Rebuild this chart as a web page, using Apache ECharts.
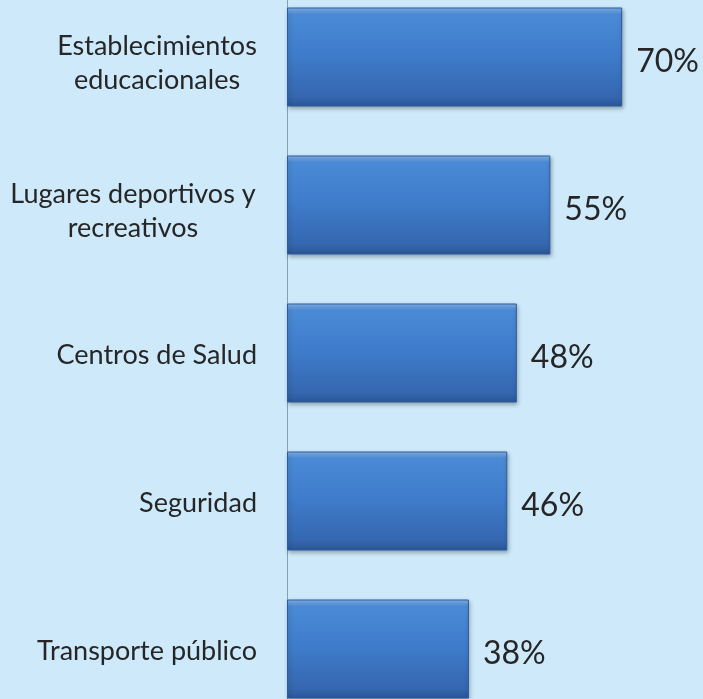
<!DOCTYPE html>
<html><head><meta charset="utf-8">
<script src="https://cdn.jsdelivr.net/npm/echarts@6/dist/echarts.min.js"></script>
<style>html,body{margin:0;padding:0;background:#cde9fa;overflow:hidden;width:703px;height:699px;position:relative;}#c{position:absolute;left:0;top:-17px;width:703px;height:740px;}</style>
</head><body><div id="c"></div>
<script>
const categories = ["Establecimientos\neducacionales","Lugares deportivos y\nrecreativos","Centros de Salud","Seguridad","Transporte público"];
const values = [70,55,48,46,38];

const catData = categories.map(function(c){
  return {value:c, textStyle:{padding: c.indexOf('\n')>=0 ? [12,0,0,0] : [4,0,0,0]}};
});

const chart = echarts.init(document.getElementById('c'));
chart.setOption({
  backgroundColor:'#cde9fa',
  animation:false,
  grid:{left:287,right:9,top:0,bottom:0,containLabel:false},
  xAxis:{type:'value',min:0,max:85,show:false},
  yAxis:{type:'category',data:catData,inverse:true,
    axisLine:{show:true,lineStyle:{color:'#8a9fb0',width:1}},
    axisTick:{show:false},
    axisLabel:{margin:30,color:'#262626',fontSize:27,fontFamily:'Lato',lineHeight:34,align:'right',
      formatter:function(v,i){
        if(v.indexOf('\n')<0) return v;
        const s = i===0 ? 'w1' : 'w2';
        return v.split('\n').map(function(l){return '{'+s+'|'+l+'}';}).join('\n');
      },
      rich:{
        w1:{width:200,align:'center',fontSize:27,fontFamily:'Lato',color:'#262626',lineHeight:34},
        w2:{width:248,align:'center',fontSize:27,fontFamily:'Lato',color:'#262626',lineHeight:34}
      }}},
  series:[{type:'bar',data:values,barWidth:99,
    itemStyle:{
      color:new echarts.graphic.LinearGradient(0,0,0,1,[
        {offset:0,color:'#86b7ec'},
        {offset:0.07,color:'#4b8ad6'},
        {offset:0.45,color:'#3f7dcc'},
        {offset:0.9,color:'#3567b0'},
        {offset:1,color:'#2b5696'}]),
      borderColor:'#2d5c9c',borderWidth:1,
      shadowColor:'rgba(0,0,0,0.3)',shadowBlur:4,shadowOffsetX:1,shadowOffsetY:2},
    label:{show:true,position:'right',distance:14,offset:[0,5],formatter:'{c}%',color:'#262626',fontSize:32,fontFamily:'Lato'}
  }]
});
</script></body></html>
